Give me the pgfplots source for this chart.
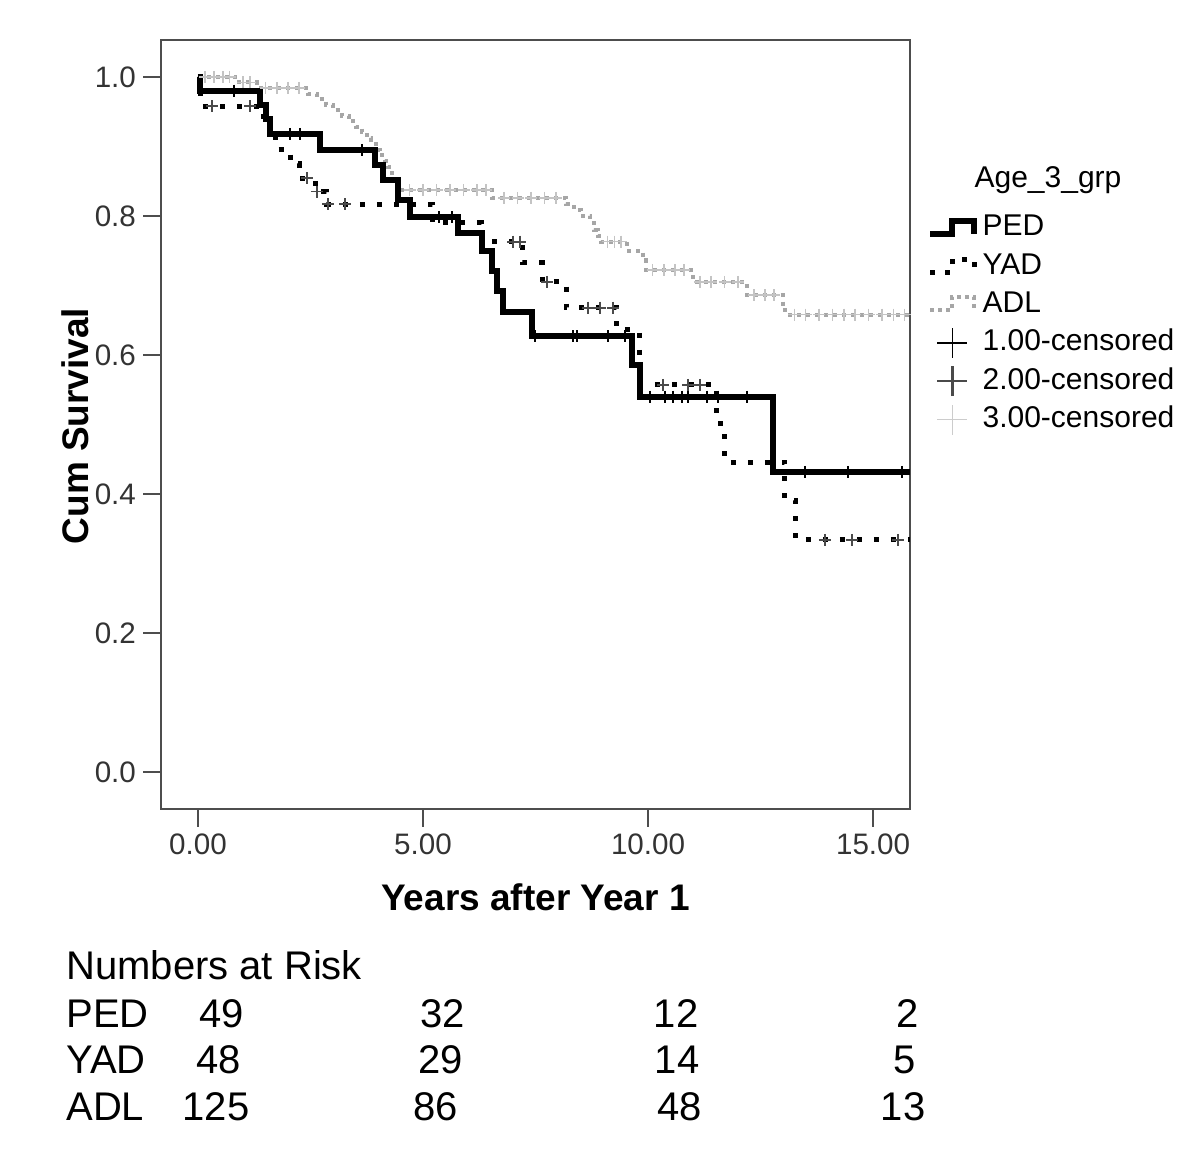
\documentclass[border=0pt]{standalone}
\usepackage{fontspec}
\setmainfont{Liberation Sans}
\usepackage{pgfplots}
\pgfplotsset{compat=1.18}
\definecolor{axgray}{HTML}{4D4D4D}
\definecolor{adlgray}{HTML}{A6A6A6}
\definecolor{censtwo}{HTML}{4A4A4A}
\definecolor{censthree}{HTML}{CCCCCC}
\pgfplotsset{
  steplegend/.style={legend image code/.code={\draw[##1] (0pt,-3pt) -- (11pt,-3pt) -- (11pt,3.5pt) -- (22pt,3.5pt) -- (22pt,-3pt);}},
  crosslegend/.style={legend image code/.code={\draw[##1] (3.5pt,0pt) -- (18.5pt,0pt) (11pt,-7.5pt) -- (11pt,7.5pt);}},
}
\begin{document}
\begin{tikzpicture}
\useasboundingbox (0pt,0pt) rectangle (600pt,574.5pt);
\begin{axis}[
  at={(80.5pt,170pt)}, anchor=south west,
  scale only axis, width=374.5pt, height=384.5pt,
  xmin=-0.822, xmax=15.82, ymin=-0.053, ymax=1.053,
  xtick={0,5,10,15}, ytick={0,0.2,0.4,0.6,0.8,1.0},
  tick pos=left, tick align=outside, major tick length=9pt,
  axis line style={axgray, line width=1pt},
  every tick/.style={axgray, line width=1pt},
  /pgf/number format/assume math mode=true,
  tick label style={font=\fontsize{14.8}{16}\selectfont, text=black!80},
  x tick label style={/pgf/number format/fixed, /pgf/number format/fixed zerofill, /pgf/number format/precision=2},
  y tick label style={/pgf/number format/fixed, /pgf/number format/fixed zerofill, /pgf/number format/precision=1},
  xlabel={Years after Year 1},
  xlabel style={font=\bfseries\fontsize{18.5}{20}\selectfont, at={(axis description cs:0.5,-0.1144)}, anchor=center},
  ylabel={Cum Survival},
  ylabel style={font=\bfseries\fontsize{18.5}{20}\selectfont, at={(axis description cs:-0.115,0.498)}, anchor=center},
  legend style={at={(axis description cs:1.0227,0.7815)}, anchor=north west, draw=none, fill=none,
    font=\fontsize{15}{18}\selectfont, inner sep=0pt, row sep=0pt,
    nodes={text height=11pt, text depth=3pt, inner sep=2.6pt}},
  legend cell align=left,
]
% legend images
\addlegendimage{black, line width=3pt, steplegend}
\addlegendentry{PED}
\addlegendimage{black, line width=2.5pt, dash pattern=on 2.5pt off 5pt, steplegend}
\addlegendentry{YAD}
\addlegendimage{adlgray, line width=2pt, dash pattern=on 2pt off 2pt, steplegend}
\addlegendentry{ADL}
\addlegendimage{black, line width=0.8pt, crosslegend}
\addlegendentry{1.00-censored}
\addlegendimage{censtwo, line width=1.2pt, crosslegend}
\addlegendentry{2.00-censored}
\addlegendimage{censthree, line width=0.8pt, crosslegend}
\addlegendentry{3.00-censored}
% ADL
\addplot[forget plot, const plot, adlgray, line width=2pt, dash pattern=on 2pt off 2.5pt] coordinates {
(0,1.0) (0.83,0.992) (1.3,0.984) (2.45,0.976) (2.65,0.968) (2.85,0.96) (3.0,0.952) (3.2,0.944) (3.35,0.936) (3.5,0.928) (3.65,0.92) (3.75,0.912) (3.85,0.904) (3.95,0.895) (4.05,0.887) (4.15,0.879) (4.22,0.87) (4.3,0.862) (4.37,0.853) (4.43,0.845) (4.5,0.837) (6.53,0.826) (8.18,0.817) (8.35,0.808) (8.5,0.8) (8.72,0.79) (8.8,0.78) (8.88,0.771) (8.95,0.763) (9.53,0.75) (9.89,0.736) (9.95,0.722) (11.0,0.705) (12.2,0.686) (13.0,0.669) (13.05,0.658) (15.82,0.658)};
\addplot[forget plot, only marks, mark=+, mark size=3pt, censthree!80!adlgray, mark options={line width=0.8pt}] coordinates {
(0.15,1.0) (0.35,1.0) (0.55,1.0) (0.7,1.0) (1.0,0.992) (1.15,0.992) (1.5,0.984) (1.75,0.984) (2.0,0.984) (2.25,0.984)
(4.7,0.837) (5.0,0.837) (5.3,0.837) (5.6,0.837) (5.9,0.837) (6.2,0.837) (6.4,0.837)
(6.8,0.826) (7.1,0.826) (7.4,0.826) (7.7,0.826) (7.95,0.826)
(9.1,0.763) (9.25,0.763) (9.4,0.763) (10.1,0.722) (10.35,0.722) (10.6,0.722) (10.8,0.722)
(11.15,0.705) (11.4,0.705) (11.7,0.705) (12.0,0.705) (12.35,0.686) (12.6,0.686) (12.8,0.686)
(13.25,0.658) (13.5,0.658) (13.8,0.658) (14.1,0.658) (14.35,0.658) (14.6,0.658) (14.9,0.658) (15.2,0.658) (15.45,0.658) (15.7,0.658)};
% YAD
\addplot[forget plot, const plot, black, line width=2.5pt, dash pattern=on 2.5pt off 6pt] coordinates {
(0,1.0) (0.06,0.958) (1.45,0.9375) (1.6,0.917) (1.72,0.896) (2.05,0.875) (2.25,0.854) (2.6,0.835) (2.85,0.817) (5.2,0.79) (6.3,0.763) (7.22,0.733) (7.65,0.705) (8.18,0.668) (9.3,0.636) (9.8,0.557) (11.52,0.501) (11.7,0.446) (13.03,0.39) (13.28,0.334) (15.82,0.334)};
\addplot[forget plot, only marks, mark=+, mark size=3pt, censtwo, mark options={line width=0.9pt}] coordinates {
(0.31,0.958) (1.16,0.958) (2.42,0.854) (2.64,0.835) (2.89,0.817) (3.27,0.817) (7.0,0.763) (7.16,0.763) (7.76,0.705)
(8.67,0.668) (8.93,0.668) (9.22,0.668) (10.33,0.557) (10.89,0.557) (11.16,0.557) (13.93,0.334) (14.53,0.334) (15.56,0.334)};
% PED
\addplot[forget plot, const plot, black, line width=3pt] coordinates {
(0,1.0) (0.05,0.98) (1.38,0.959) (1.5,0.939) (1.6,0.918) (2.72,0.895) (3.93,0.873) (4.12,0.851) (4.45,0.823) (4.7,0.798) (5.78,0.775) (6.3,0.75) (6.53,0.721) (6.64,0.692) (6.78,0.662) (7.42,0.627) (9.65,0.585) (9.82,0.54) (12.78,0.432) (15.82,0.432)};
\addplot[forget plot, only marks, mark=+, mark size=3pt, black, mark options={line width=0.8pt}] coordinates {
(0.8,0.98) (2.04,0.918) (2.27,0.918) (3.65,0.895) (5.35,0.798) (5.65,0.798) (7.49,0.627) (8.33,0.627) (8.42,0.627) (9.11,0.627) (9.49,0.627)
(10.04,0.54) (10.38,0.54) (10.56,0.54) (10.76,0.54) (10.89,0.54) (11.31,0.54) (11.56,0.54) (12.2,0.54) (13.49,0.432) (14.44,0.432) (15.64,0.432)};
\end{axis}
\node[font=\fontsize{15}{18}\selectfont, inner sep=0pt] at (524pt,484.5pt) {Age\_3\_grp};
\begin{scope}[every node/.style={font=\fontsize{20}{24}\selectfont, inner sep=0pt}]
\node[anchor=base west] at (33pt,84.5pt) {Numbers at Risk};
\node[anchor=base west] at (33pt,60.5pt) {PED};
\node[anchor=base west] at (33pt,37.5pt) {YAD};
\node[anchor=base west] at (33pt,14pt) {ADL};
\node[anchor=base] at (111pt,60.5pt) {49};
\node[anchor=base] at (221.5pt,60.5pt) {32};
\node[anchor=base] at (338pt,60.5pt) {12};
\node[anchor=base] at (454pt,60.5pt) {2};
\node[anchor=base] at (109.5pt,37.5pt) {48};
\node[anchor=base] at (220.5pt,37.5pt) {29};
\node[anchor=base] at (338.5pt,37.5pt) {14};
\node[anchor=base] at (452.5pt,37.5pt) {5};
\node[anchor=base] at (108pt,14pt) {125};
\node[anchor=base] at (218pt,14pt) {86};
\node[anchor=base] at (340pt,14pt) {48};
\node[anchor=base] at (451.5pt,14pt) {13};
\end{scope}
\end{tikzpicture}
\end{document}
